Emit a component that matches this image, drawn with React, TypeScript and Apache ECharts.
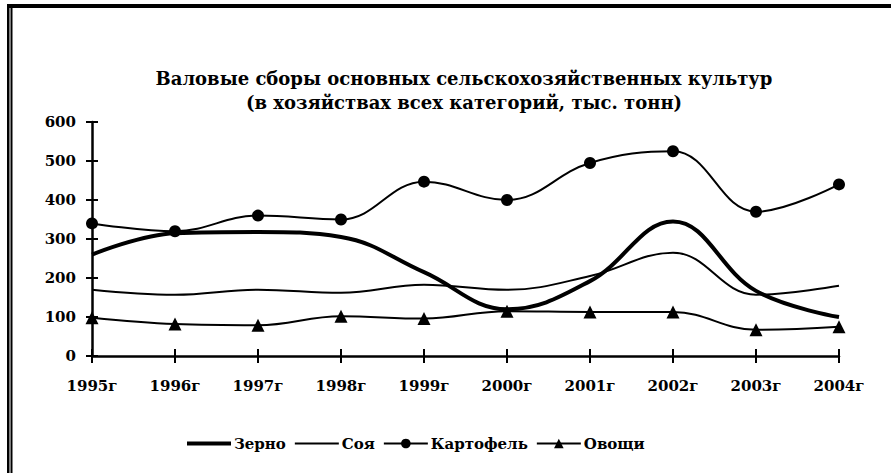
import React, { useEffect, useRef } from "react";
import * as echarts from "echarts";

const years = ["1995г", "1996г", "1997г", "1998г", "1999г", "2000г", "2001г", "2002г", "2003г", "2004г"];
const grain = [260, 315, 318, 305, 215, 120, 192, 345, 167, 100];
const soy = [170, 157, 170, 162, 183, 170, 205, 265, 157, 180];
const potato = [340, 320, 360, 350, 447, 400, 495, 525, 370, 440];
const veg = [98, 82, 79, 102, 96, 115, 113, 113, 67, 75];
const yTicks = { min: 0, max: 600, interval: 100 };
const titleLines = [
  "Валовые сборы основных сельскохозяйственных культур",
  "(в хозяйствах всех категорий, тыс. тонн)",
];

const FONT = "DejaVu Serif";

export default function App() {
  const ref = useRef<HTMLDivElement>(null);
  useEffect(() => {
    if (!ref.current) return;
    const chart = echarts.init(ref.current, undefined, { renderer: "svg" });
    const baseLine = { type: "line", smooth: 0.4, color: "#000", z: 3 };
    const titleStyle = { fontFamily: FONT, fontWeight: "bold", fontSize: 18, fill: "#000", textAlign: "center", textVerticalAlign: "middle" };
    chart.setOption({
      animation: false,
      backgroundColor: "#fff",
      textStyle: { fontFamily: FONT, color: "#000", fontWeight: "bold" },
      grid: { left: 92, right: 52, top: 122, bottom: 117 },
      graphic: [
        { type: "rect", shape: { x: 7, y: 4, width: 884, height: 4 }, style: { fill: "#000" } },
        { type: "rect", shape: { x: 7, y: 4, width: 2.5, height: 469 }, style: { fill: "#000" } },
        { type: "rect", shape: { x: 10.5, y: 8, width: 2, height: 465 }, style: { fill: "#000" } },
        { type: "text", x: 464, y: 78, style: { ...titleStyle, text: titleLines[0] } },
        { type: "text", x: 464, y: 102, style: { ...titleStyle, text: titleLines[1] } },
      ],
      legend: {
        left: 180,
        top: 431,
        itemWidth: 44,
        itemHeight: 12,
        itemGap: 8,
        textStyle: { fontFamily: FONT, fontWeight: "bold", fontSize: 15, color: "#000", padding: [0, 0, 0, -2] },
        data: [
          { name: "Зерно", itemStyle: { opacity: 0 }, lineStyle: { width: 4, color: "#000" } },
          { name: "Соя", itemStyle: { opacity: 0 }, lineStyle: { width: 2, color: "#000" } },
          { name: "Картофель", lineStyle: { width: 2, color: "#000" } },
          { name: "Овощи", lineStyle: { width: 2, color: "#000" } },
        ],
      },
      xAxis: [
        {
          type: "category", data: years, boundaryGap: false,
          axisLine: { lineStyle: { color: "#000", width: 2.5 } },
          axisTick: { show: true, inside: false, length: 7, lineStyle: { color: "#000", width: 2 } },
          axisLabel: { margin: 22, fontFamily: FONT, fontWeight: "bold", fontSize: 15, color: "#000" },
          splitLine: { show: false },
        },
        {
          type: "category", data: years, boundaryGap: false, position: "bottom",
          axisLine: { show: false },
          axisTick: { show: true, inside: true, length: 7, lineStyle: { color: "#000", width: 2 } },
          axisLabel: { show: false },
          splitLine: { show: false },
        },
      ],
      yAxis: [
        {
          type: "value", ...yTicks,
          axisLine: { show: true, lineStyle: { color: "#000", width: 2.5 } },
          axisTick: { show: true, inside: false, length: 6, lineStyle: { color: "#000", width: 2 } },
          axisLabel: { margin: 16, fontFamily: FONT, fontWeight: "bold", fontSize: 15, color: "#000" },
          splitLine: { show: false },
        },
        {
          type: "value", ...yTicks, position: "left",
          axisLine: { show: false },
          axisTick: { show: true, inside: true, length: 6, lineStyle: { color: "#000", width: 2 } },
          axisLabel: { show: false },
          splitLine: { show: false },
        },
      ],
      series: [
        { ...baseLine, name: "Зерно", data: grain, symbol: "none", lineStyle: { color: "#000", width: 4 }, itemStyle: { color: "#000" } },
        { ...baseLine, name: "Соя", data: soy, symbol: "none", lineStyle: { color: "#000", width: 2 }, itemStyle: { color: "#000" } },
        { ...baseLine, name: "Картофель", data: potato, symbol: "circle", symbolSize: 12, lineStyle: { color: "#000", width: 2 }, itemStyle: { color: "#000" } },
        { ...baseLine, name: "Овощи", data: veg, symbol: "triangle", symbolSize: 13, lineStyle: { color: "#000", width: 2 }, itemStyle: { color: "#000" } },
      ],
    });
    return () => chart.dispose();
  }, []);
  return <div ref={ref} style={{ width: 891, height: 473, position: "absolute", left: 0, top: 0 }} />;
}
